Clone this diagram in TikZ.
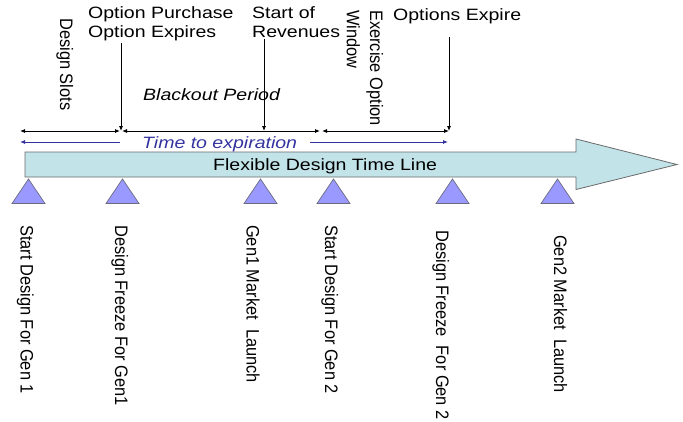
\documentclass[tikz,border=0pt]{standalone}
\usepackage{fontspec}
\setmainfont{Liberation Sans}
\usetikzlibrary{arrows.meta}
\definecolor{barfill}{HTML}{C2E4E9}
\definecolor{barline}{HTML}{6A6A6A}
\definecolor{markfill}{HTML}{9999FF}
\definecolor{markline}{HTML}{6B6B80}
\definecolor{expblue}{HTML}{3333A0}
% horizontal texts are set a little wide, rotated texts a little thick
\newcommand\htxt[1]{\scalebox{1.19}[1]{#1}}
\newcommand\vtxt[1]{\scalebox{1}[1.1]{#1}}
\begin{document}
\begin{tikzpicture}[x=1pt,y=-1pt,
  lbl/.style={inner sep=0pt, font=\fontsize{16.4}{19}\selectfont},
  hlbl/.style={lbl, anchor=base west},
  vlbl/.style={lbl, rotate=-90, anchor=base west},
  tipk/.style={-{Latex[length=5pt,width=4pt]}},
  dbl/.style={{Latex[length=5pt,width=4pt]}-{Latex[length=5pt,width=4pt]}},
  conn/.style={line width=0.8pt, black},
  bconn/.style={line width=0.8pt, expblue},
  marker/.style={fill=markfill, draw=markline, line width=0.7pt, line join=miter}]
\useasboundingbox (0,0) rectangle (683,421);

% the time line arrow
\filldraw[fill=barfill, draw=barline, line width=0.8pt]
  (25,152) -- (576,152) -- (576,139) -- (677,164.5) -- (576,189.5) -- (576,177) -- (25,177) -- cycle;
\node[hlbl] (flex) at (213,170) {\htxt{Flexible Design Time Line}};

% milestone markers
\foreach \x in {28.5,122.5,260.5,333.5,452.5,557.5}
  \filldraw[marker] (\x-16.5,203.5) -- (\x,179) -- (\x+16.5,203.5) -- cycle;

% milestone labels
\node[vlbl] (m1) at (20.7,225) {\vtxt{Start Design For Gen 1}};
\node[vlbl] (m2) at (115,225) {\vtxt{Design Freeze For Gen1}};
\node[vlbl] (m3) at (246.7,225) {\vtxt{Gen1 Market\ \ Launch}};
\node[vlbl] (m4) at (325,225) {\vtxt{Start Design For Gen 2}};
\node[vlbl] (m5) at (436,230) {\vtxt{Design Freeze\ \ For Gen 2}};
\node[vlbl] (m6) at (554,235) {\vtxt{Gen2 Market\ \ Launch}};

% event labels above the line
\node[hlbl] (opt) at (88,18) {\htxt{\begin{tabular}[t]{@{}l@{}}Option Purchase\\Option Expires\end{tabular}}};
\node[hlbl] (rev) at (252,18) {\htxt{\begin{tabular}[t]{@{}l@{}}Start of\\Revenues\end{tabular}}};
\node[hlbl] (oe) at (393,20) {\htxt{Options Expire}};
\node[vlbl] (slots) at (60,18) {\vtxt{Design Slots}};
\node[vlbl, font=\fontsize{16.4}{21}\selectfont] (win) at (370,10)
  {\vtxt{\begin{tabular}[t]{@{}l@{}}Exercise Option\\Window\end{tabular}}};
\node[hlbl, font=\fontsize{16.4}{19}\selectfont\itshape] (black) at (143,100) {\htxt{Blackout Period}};

% period boundaries
\coordinate (h0) at (20,131);
\coordinate (h1) at (120,131);
\coordinate (p1) at (121,131);
\coordinate (h1b) at (122,131);
\coordinate (p2) at (264,131);
\coordinate (h2) at (320,131);
\coordinate (h2b) at (322,131);
\coordinate (h3) at (449,131);

\draw[conn, dbl] (h0) -- (h1);
\draw[conn, dbl] (h1b) -- (h2);
\draw[conn, dbl] (h2b) -- (h3);

\draw[conn, tipk] (opt.south -| p1) -- (p1);
\draw[conn, tipk] ([yshift=4pt]rev.south -| p2) -- (p2);
\draw[conn, tipk] ([yshift=-13.5pt]oe.south -| h3) -- (h3);

% time to expiration
\node[hlbl, font=\fontsize{16.4}{19}\selectfont\itshape, text=expblue] (exp) at (142,148) {\htxt{Time to expiration}};
\coordinate (b0) at (20,142);
\coordinate (b1) at (120,142);
\coordinate (b2) at (310,142);
\coordinate (b3) at (448,142);
\draw[bconn, tipk] (b1) -- (b0);
\draw[bconn, tipk] (b2) -- (b3);
\end{tikzpicture}
\end{document}
